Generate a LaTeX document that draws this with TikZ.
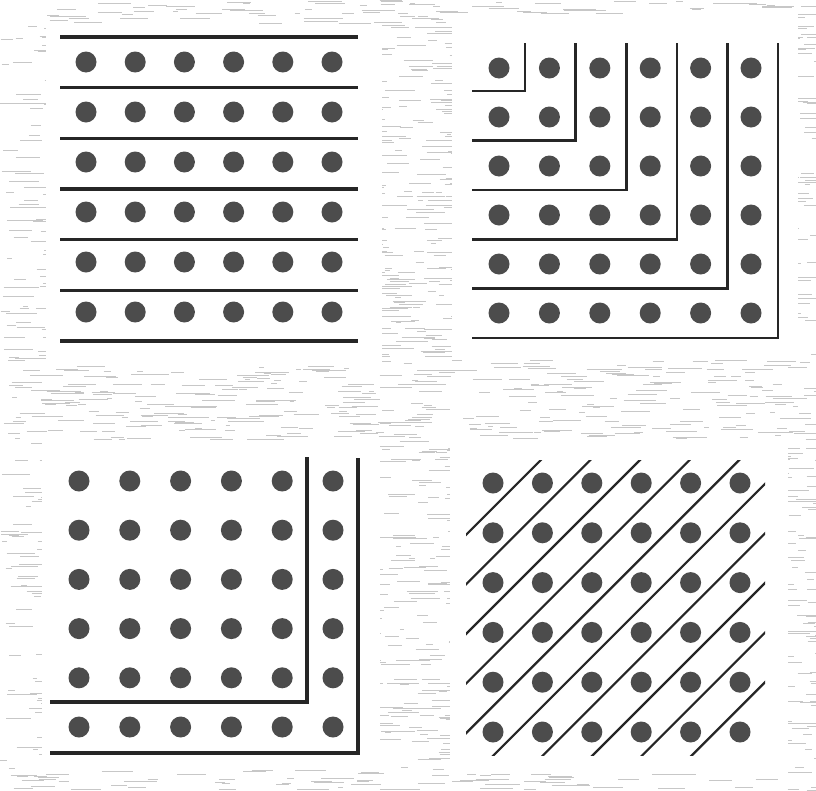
\documentclass[tikz,border=0pt]{standalone}
\begin{document}
\begin{tikzpicture}[x=1pt,y=-1pt,
  dot/.style={fill=black!70,draw=none},
  bar/.style={line width=3.1pt,draw=black!85},
  lbar/.style={line width=2.6pt,draw=black!85},
  dbar/.style={line width=2.2pt,draw=black!85},
  streak/.style={line width=0.6pt,draw=black!22},
  panel/.style={fill=white,draw=none}]
\useasboundingbox (0,0) rectangle (816,790);
\fill[white] (0,0) rectangle (816,790);
% background texture
\pgfmathsetseed{7}
\foreach \i in {1,...,3200}{
  \pgfmathsetmacro\xx{rnd*816}
  \pgfmathsetmacro\yy{rnd*790}
  \pgfmathsetmacro\ll{4+rnd*30}
  \draw[streak] (\xx,\yy) -- ++(\ll,0);
}
% panels
\fill[panel] (46,24) rectangle (382,364);
\fill[panel] (452,14) rectangle (798,360);
\fill[panel] (42,440) rectangle (380,770);
\fill[panel] (450,440) rectangle (788,774);
% ---- panel 1: rows ----
\foreach \k in {0,...,6}{
  \draw[bar] (60,{37+50.67*\k}) -- (358,{37+50.67*\k});
}
\foreach \i in {0,...,5}{
  \foreach \j in {0,...,5}{
    \fill[dot] ({86+49.2*\i},{62+50*\j}) circle (10.5);
  }
}
% ---- panel 2: nested L-shapes ----
\foreach \k in {0,...,5}{
  \draw[lbar] ({525+50.6*\k},43) -- ({525+50.6*\k},{91+49.4*\k}) -- (472,{91+49.4*\k});
}
\foreach \i in {0,...,5}{
  \foreach \j in {0,...,5}{
    \fill[dot] ({499+50.4*\i},{68+49*\j}) circle (10.5);
  }
}
% ---- panel 3: two L-shapes ----
\draw[bar] (307,457) -- (307,702) -- (50,702);
\draw[bar] (358,458) -- (358,753) -- (50,753);
\foreach \i in {0,...,5}{
  \foreach \j in {0,...,5}{
    \fill[dot] ({79+50.8*\i},{481+49.2*\j}) circle (10.5);
  }
}
% ---- panel 4: diagonals ----
\begin{scope}
  \clip (466,460) rectangle (765,755);
  \foreach \k in {1,...,10}{
    \pgfmathsetmacro\s{976+49.6*(\k-0.5)}
    \draw[dbar] (300,{\s-300}) -- (900,{\s-900});
  }
\end{scope}
\foreach \i in {0,...,5}{
  \foreach \j in {0,...,5}{
    \fill[dot] ({493+49.4*\i},{483+49.8*\j}) circle (10.5);
  }
}
\end{tikzpicture}
\end{document}
